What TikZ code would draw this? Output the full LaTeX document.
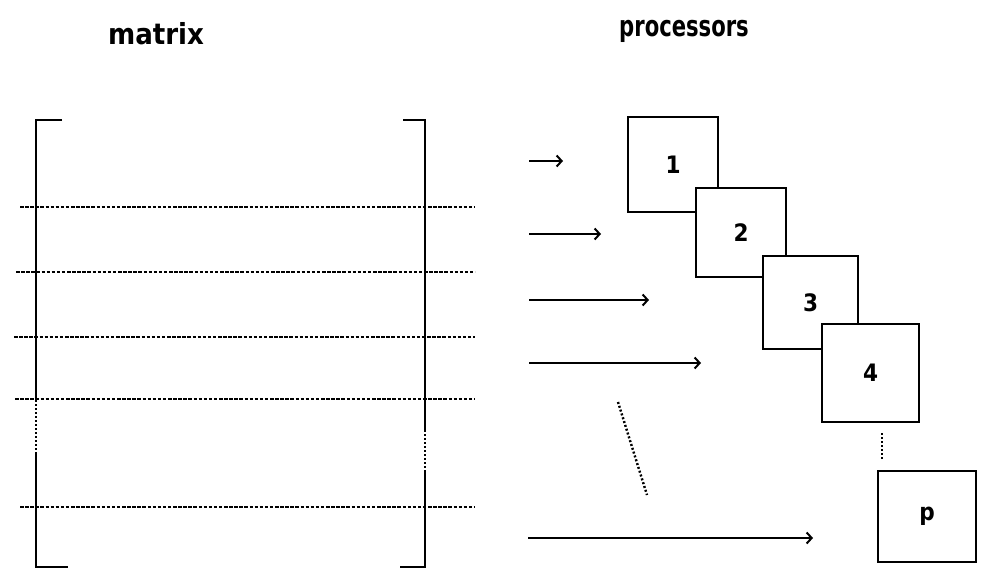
\documentclass[tikz,border=0pt]{standalone}
\usepackage{fontspec}
\setmainfont{DejaVu Sans Condensed}
\usetikzlibrary{arrows.meta}
\tikzset{
  procbox/.style={draw, line width=2pt, fill=white, inner sep=0pt, font=\fontsize{24}{27}\selectfont\bfseries},
  rowline/.style={line width=2.2pt, dash pattern=on 3.5pt off 1.6pt},
  dotline/.style={line width=2.4pt, dash pattern=on 2pt off 2pt},
  brk/.style={line width=2pt},
  feed/.style={line width=2pt, -{Straight Barb[length=5pt,width=11pt,line width=2pt]}},
  title/.style={font=\fontsize{29}{33}\selectfont\bfseries}
}
\begin{document}
\begin{tikzpicture}[x=1pt,y=-1pt]
\useasboundingbox (0,0) rectangle (981,581);
% titles
\node[title] (tm) at (156,34) {matrix};
\node[title, xscale=0.81, transform shape] (tp) at (684,31) {processors};
% left bracket
\coordinate (lt) at (62,120); \coordinate (ltc) at (36,120);
\coordinate (ld1) at (36,400); \coordinate (ld2) at (36,453);
\coordinate (lbc) at (36,567); \coordinate (lb) at (68,567);
\draw[brk] (lt) -- (ltc) -- (ld1);
\draw[dotline] (ld1) -- (ld2);
\draw[brk] (ld2) -- (lbc) -- (lb);
% right bracket
\coordinate (rt) at (403,120); \coordinate (rtc) at (425,120);
\coordinate (rd1) at (425,430); \coordinate (rd2) at (425,470);
\coordinate (rbc) at (425,567); \coordinate (rb) at (400,567);
\draw[brk] (rt) -- (rtc) -- (rd1);
\draw[dotline] (rd1) -- (rd2);
\draw[brk] (rd2) -- (rbc) -- (rb);
% row partition lines
\coordinate (r1a) at (20,207);  \coordinate (r1b) at (475,207);
\coordinate (r2a) at (16,272);  \coordinate (r2b) at (475,272);
\coordinate (r3a) at (14,337);  \coordinate (r3b) at (475,337);
\coordinate (r4a) at (15,399);  \coordinate (r4b) at (475,399);
\coordinate (r5a) at (20,507);  \coordinate (r5b) at (475,507);
\foreach \r in {1,...,5} \draw[rowline] (r\r a) -- (r\r b);
% processors
\node[procbox, minimum width=90pt, minimum height=95pt] (p1) at (673,164.5) {1};
\node[procbox, minimum width=90pt, minimum height=89pt] (p2) at (741,232.5) {2};
\node[procbox, minimum width=95pt, minimum height=93pt] (p3) at (810.5,302.5) {3};
\node[procbox, minimum width=97pt, minimum height=98pt] (p4) at (870.5,373) {4};
\node[procbox, minimum width=98pt, minimum height=91pt] (pp) at (927,516.5) {p};
\draw[dotline] (p4.south -| 882,0) ++(0,10) coordinate (v1) -- ++(0,26) coordinate (v2);
% arrows
\coordinate (a1s) at (529,161); \coordinate (a1e) at (563,161);
\coordinate (a2s) at (529,234); \coordinate (a2e) at (601,234);
\coordinate (a3s) at (529,300); \coordinate (a3e) at (649,300);
\coordinate (a4s) at (529,363); \coordinate (a4e) at (701,363);
\coordinate (a5s) at (528,538); \coordinate (a5e) at (813,538);
\foreach \a in {1,...,5} \draw[feed] (a\a s) -- (a\a e);
% ellipsis diagonal
\coordinate (d1) at (618,402); \coordinate (d2) at (647,495);
\draw[dotline] (d1) -- (d2);
\end{tikzpicture}
\end{document}
